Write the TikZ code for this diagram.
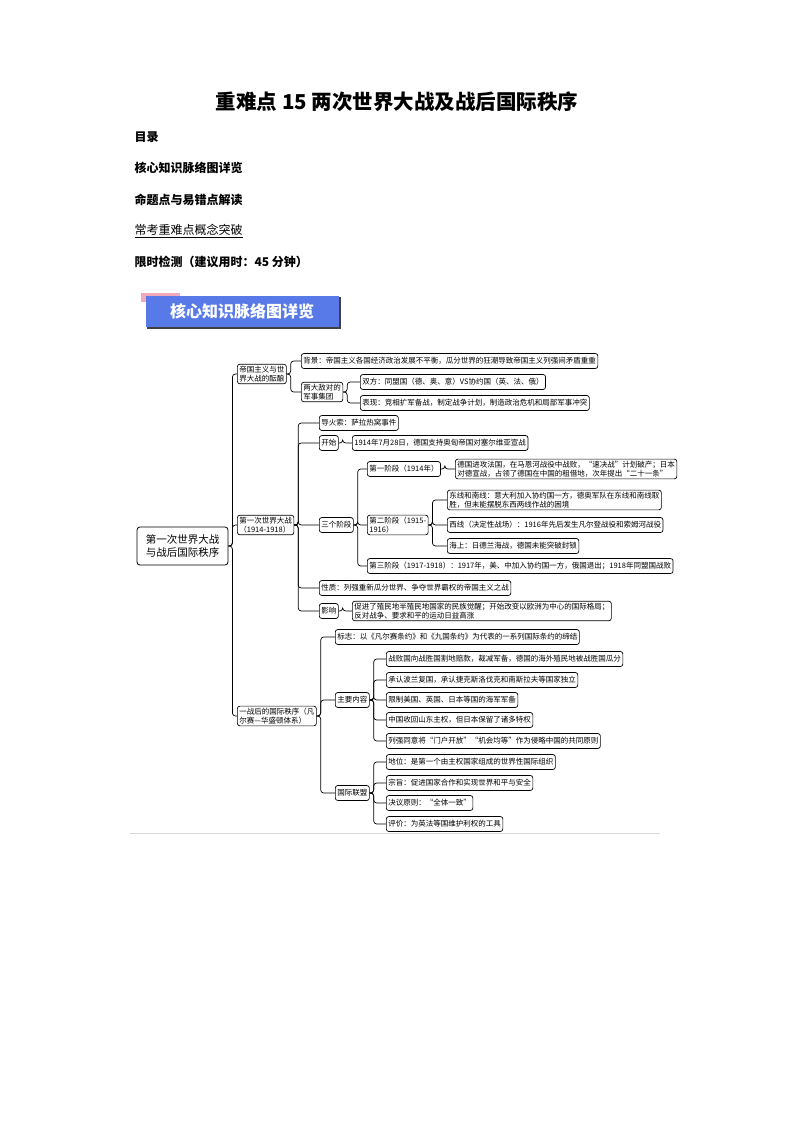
\documentclass[tikz,border=0pt]{standalone}
\usepackage{fontspec}
\setmainfont{Noto Sans CJK SC}
\definecolor{banpink}{RGB}{240,170,185}
\definecolor{banblue}{RGB}{88,122,232}
\begin{document}
\begin{tikzpicture}[x=1pt,y=-1pt,
  bx/.style={draw,rounded corners=2.5pt,line width=0.7pt,font=\fontsize{7.5}{9}\selectfont,inner xsep=2pt,inner ysep=1.8pt,anchor=west,align=left,minimum height=15pt},
  conn/.style={draw,line width=0.7pt,rounded corners=3pt},
  hd/.style={anchor=west,font=\fontsize{12}{14}\selectfont\bfseries}]
\useasboundingbox (0,0) rectangle (794,1123);
% header
\node[font=\fontsize{20.5}{22}\selectfont\bfseries] (title) at (397,102) {重难点 15 两次世界大战及战后国际秩序};
\node[hd] (h1) at (131,137) {目录};
\node[hd] (h2) at (131,168) {核心知识脉络图详览};
\node[hd] (h3) at (131,200) {命题点与易错点解读};
\node[anchor=west,font=\fontsize{12}{14}\selectfont] (h4) at (131,231) {\underline{常考重难点概念突破}};
\node[hd] (h5) at (131,262) {限时检测（建议用时：45 分钟）};
% banner
\fill[banpink] (141,293) rectangle (180,302);
\fill[black!75] (147,297) rectangle (341,329);
\fill[banblue] (146,296) rectangle (339,327);
\node[font=\fontsize{16}{18}\selectfont\bfseries,text=white] (ban) at (242,311) {核心知识脉络图详览};
% root
\node[draw,rounded corners=3pt,line width=0.8pt,font=\fontsize{10.5}{13}\selectfont,align=center,minimum width=91pt,minimum height=38pt] (root) at (182.5,546) {第一次世界大战\\与战后国际秩序};
% level1
\node[bx] (a) at (237,374) {帝国主义与世\\界大战的酝酿};
\node[bx] (b) at (237,525) {第一次世界大战\\（1914-1918）};
\node[bx] (c) at (237,716) {一战后的国际秩序（凡\\尔赛—华盛顿体系）};
% a
\node[bx] (a1) at (301,361) {背景：帝国主义各国经济政治发展不平衡，瓜分世界的狂潮导致帝国主义列强间矛盾重重};
\node[bx] (a2) at (301,392) {两大敌对的\\军事集团};
\node[bx] (a21) at (360,382) {双方：同盟国（德、奥、意）VS协约国（英、法、俄）};
\node[bx] (a22) at (360,403) {表现：竞相扩军备战，制定战争计划，制造政治危机和局部军事冲突};
% b
\node[bx] (b1) at (319,423) {导火索：萨拉热窝事件};
\node[bx] (b2) at (319,443) {开始};
\node[bx] (b21) at (352,443) {1914年7月28日，德国支持奥匈帝国对塞尔维亚宣战};
\node[bx] (b3) at (319,525) {三个阶段};
\node[bx] (s1) at (367,469) {第一阶段（1914年）};
\node[bx] (s11) at (455,469) {德国进攻法国，在马恩河战役中战败，“速决战”计划破产；日本\\对德宣战，占领了德国在中国的租借地，次年提出“二十一条”};
\node[bx] (s2) at (367,525) {第二阶段（1915-\\1916）};
\node[bx] (s21) at (447,500) {东线和南线：意大利加入协约国一方，德奥军队在东线和南线取\\胜，但未能摆脱东西两线作战的困境};
\node[bx] (s22) at (447,525) {西线（决定性战场）：1916年先后发生凡尔登战役和索姆河战役};
\node[bx] (s23) at (447,546) {海上：日德兰海战，德国未能突破封锁};
\node[bx] (s3) at (367,566) {第三阶段（1917-1918）：1917年，美、中加入协约国一方，俄国退出；1918年同盟国战败};
\node[bx] (b4) at (319,588) {性质：列强重新瓜分世界、争夺世界霸权的帝国主义之战};
\node[bx] (b5) at (319,611) {影响};
\node[bx] (b51) at (352,611) {促进了殖民地半殖民地国家的民族觉醒；开始改变以欧洲为中心的国际格局；\\反对战争、要求和平的运动日益高涨};
% c
\node[bx] (c1) at (335,637) {标志：以《凡尔赛条约》和《九国条约》为代表的一系列国际条约的缔结};
\node[bx] (c2) at (335,700) {主要内容};
\node[bx] (m1) at (386,659) {战败国向战胜国割地赔款，裁减军备，德国的海外殖民地被战胜国瓜分};
\node[bx] (m2) at (386,680) {承认波兰复国，承认捷克斯洛伐克和南斯拉夫等国家独立};
\node[bx] (m3) at (386,700) {限制美国、英国、日本等国的海军军备};
\node[bx] (m4) at (386,720) {中国收回山东主权，但日本保留了诸多特权};
\node[bx] (m5) at (386,741) {列强同意将“门户开放”“机会均等”作为侵略中国的共同原则};
\node[bx] (c3) at (335,793) {国际联盟};
\node[bx] (l1) at (386,762) {地位：是第一个由主权国家组成的世界性国际组织};
\node[bx] (l2) at (386,783) {宗旨：促进国家合作和实现世界和平与安全};
\node[bx] (l3) at (386,803) {决议原则：“全体一致”};
\node[bx] (l4) at (386,824) {评价：为英法等国维护利权的工具};
% connectors
\foreach \p/\cs in {root/{a,b,c},a/{a1,a2},a2/{a21,a22},b/{b1,b2,b3,b4,b5},b2/{b21},b3/{s1,s2,s3},s1/{s11},s2/{s21,s22,s23},b5/{b51},c/{c1,c2,c3},c2/{m1,m2,m3,m4,m5},c3/{l1,l2,l3,l4}}{
  \foreach \c in \cs {
    \draw[conn] (\p.east) -- ++(4,0) |- (\c.west);
  }
}
\draw[line width=0.6pt,black!15] (130,833) -- (660,833);
\end{tikzpicture}
\end{document}
